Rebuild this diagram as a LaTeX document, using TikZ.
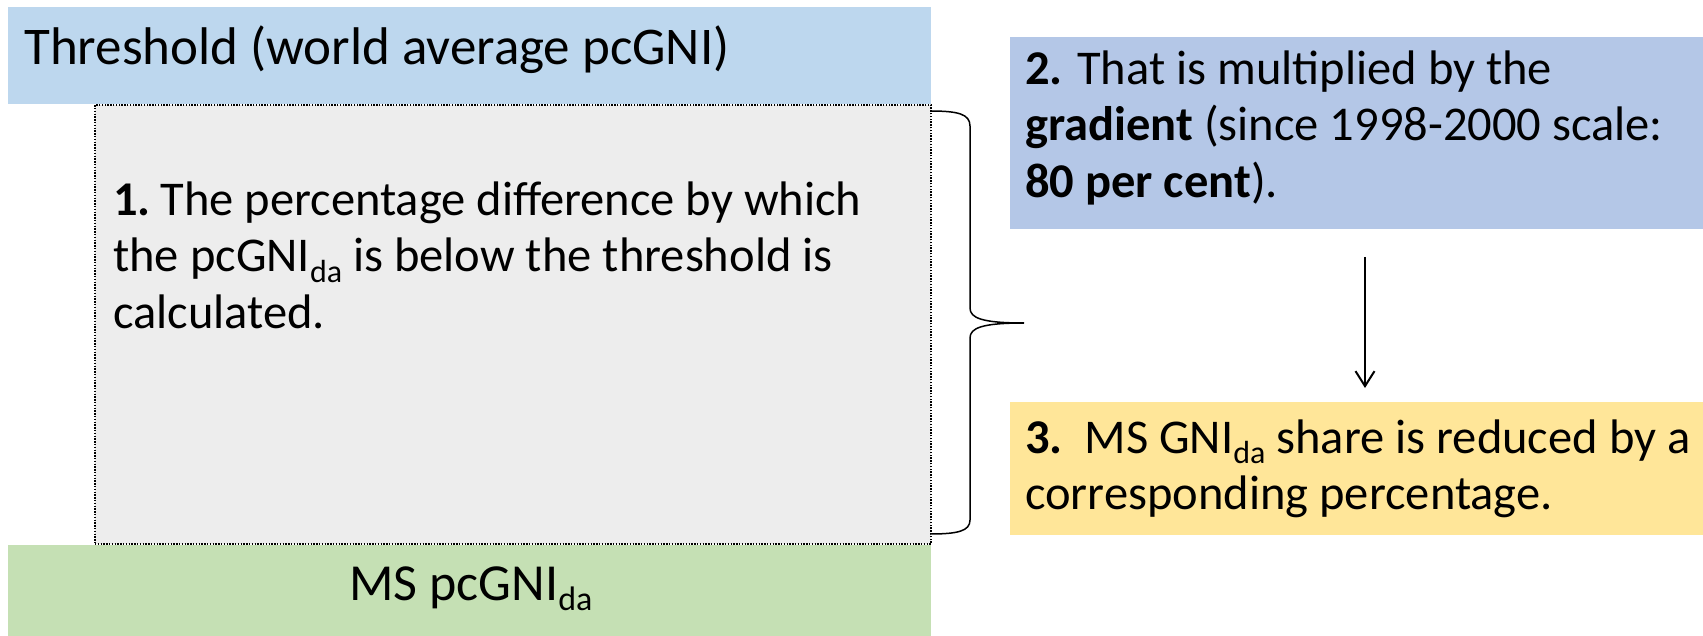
\documentclass[tikz,border=0pt]{standalone}
\usepackage{fontspec}
\setmainfont{Carlito}
\usetikzlibrary{arrows.meta}
\definecolor{topblue}{HTML}{BDD7EE}
\definecolor{lavblue}{HTML}{B4C7E7}
\definecolor{grnbox}{HTML}{C5E0B4}
\definecolor{yelbox}{HTML}{FFE699}
\definecolor{grybox}{HTML}{EDEDED}
\newcommand\subda[1]{\raisebox{-0.21em}{\fontsize{#1}{#1}\selectfont da}}
\begin{document}
\begin{tikzpicture}[x=1pt,y=-1pt,
  box/.style={draw=none, inner sep=0pt, outer sep=0pt, anchor=north west},
  txt/.style={inner sep=0pt, anchor=base west, align=left, font=\fontsize{48.5}{56.5}\selectfont},
  brc/.style={draw=black, line width=1.5pt},
  flow/.style={draw=black, line width=2pt, -{Straight Barb[length=15pt,width=19pt,line width=2pt]}}]
\useasboundingbox[fill=white] (0,0) rectangle (1703,636);
\node[box, fill=topblue, minimum width=923pt, minimum height=97pt] (thr) at (8,7) {};
\node[box, fill=grybox, draw=black, line width=1.2pt, dash pattern=on 1.4pt off 1.4pt, minimum width=836pt, minimum height=439pt] (diff) at (95,105) {};
\node[box, fill=grnbox, minimum width=923pt, minimum height=91pt] (ms) at (8,545) {};
\node[box, fill=lavblue, minimum width=693pt, minimum height=192pt] (grad) at (1010,37) {};
\node[box, fill=yelbox, minimum width=693pt, minimum height=133pt] (red) at (1010,402) {};

\node[txt, font=\fontsize{53}{62}\selectfont] (thrtxt) at (24,65) {Threshold (world average pcGNI)};
\node[txt] (difftxt) at (113,328.5) {\textbf{1.}\hspace{0.2em}The percentage difference by which\\ the pcGNI\subda{32}{} is below the threshold is\\ calculated.};
\node[inner sep=0pt, anchor=base, font=\fontsize{52}{60}\selectfont] (mstxt) at (471,600) {MS pcGNI\subda{34}};
\node[txt] (gradtxt) at (1025,197.5) {\textbf{2.} That is multiplied by the\\ \textbf{gradient} (since 1998-2000 scale:\\ \textbf{80 per cent}).};
\node[txt] (redtxt) at (1025,509.5) {\textbf{3.}\hspace{0.45em}MS GNI\subda{32}{} share is reduced by a\\ corresponding percentage.};

\coordinate (a1) at (1365,257);
\coordinate (a2) at (1365,388);
\draw[flow] (a1) -- (a2);

\draw[brc] (930,111) .. controls (958,111) and (970,114) .. (970,126)
  -- (970,308) .. controls (970,318) and (982,323) .. (1024,323)
  .. controls (982,323) and (970,328) .. (970,338)
  -- (970,520) .. controls (970,531) and (958,534) .. (930,534);
\end{tikzpicture}
\end{document}
